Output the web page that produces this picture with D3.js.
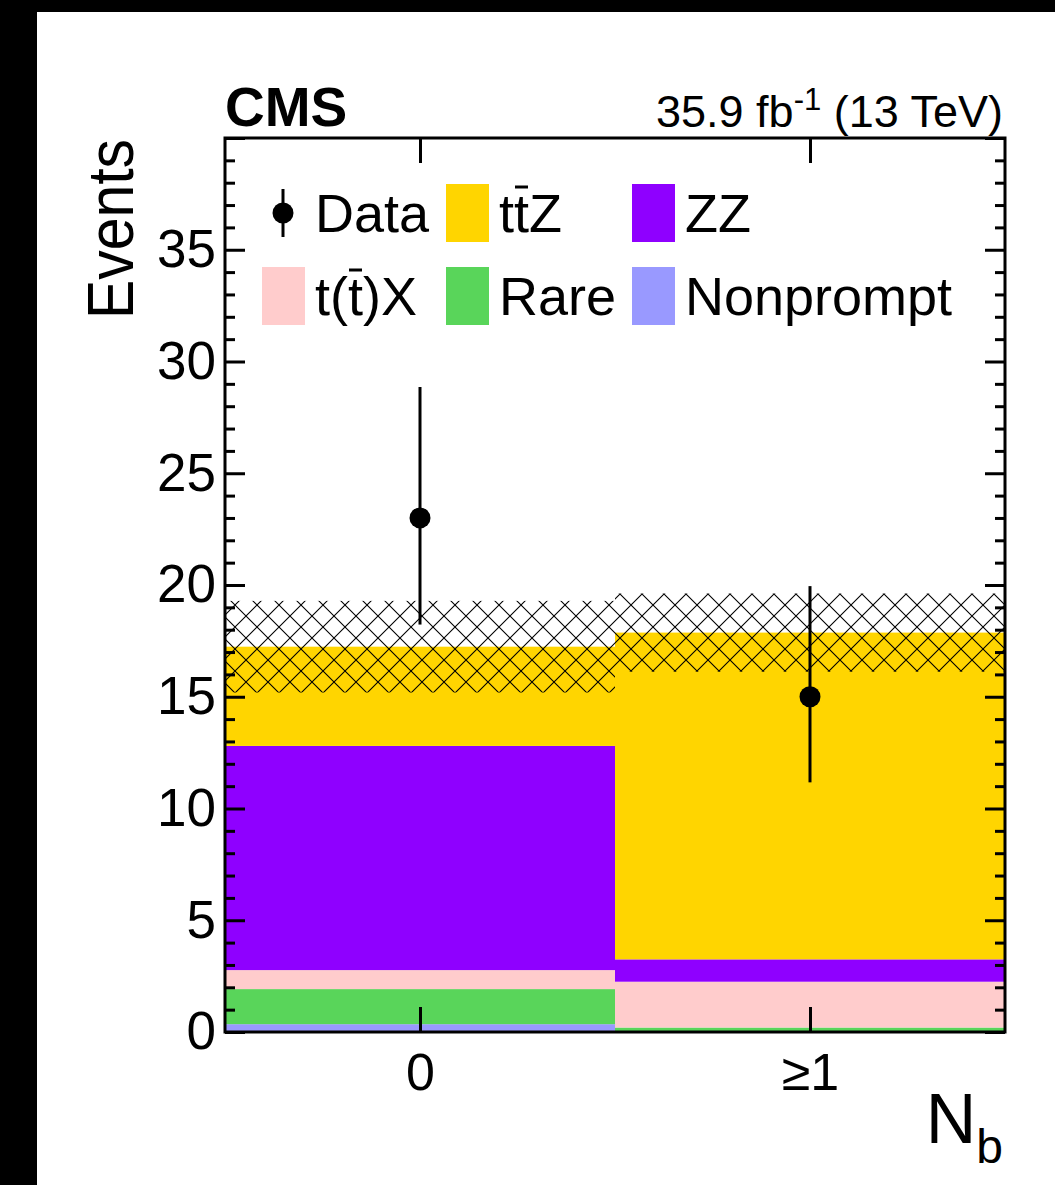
<!DOCTYPE html>
<html>
<head>
<meta charset="utf-8">
<script src="https://cdn.jsdelivr.net/npm/d3@7"></script>
<style>
  html, body { margin: 0; padding: 0; background: #fff; }
  svg { display: block; font-family: "Liberation Sans", Arial, Helvetica, sans-serif; }
</style>
</head>
<body>
<svg id="chart" width="1055" height="1185"></svg>
<script>
// Bins of the b-jet multiplicity
const categories = ["0", "\u22651"];

// Expected yields per process (stacked bottom to top)
const nonprompt = [0.35, 0.00];
const rare      = [1.57, 0.20];
const ttX       = [0.85, 2.05];
const zz        = [10.03, 1.00];
const ttZ       = [4.44, 14.62];

// Total background uncertainty (symmetric) per bin
const bkgUnc = [2.05, 1.75];

// Observed events with asymmetric Poisson errors
const dataCounts  = [23, 15];
const dataErrUp   = [5.86, 4.95];
const dataErrDown = [4.77, 3.83];

// Axis ticks
const yMajorTicks = [0, 5, 10, 15, 20, 25, 30, 35];
const yMinorTicks = d3.range(0, 41, 1);

// Process legend / colours
const processKeys   = ["nonprompt", "rare", "ttX", "zz", "ttZ"];
const processColors = {
  nonprompt: "#9999ff",
  rare: "#59d55a",
  ttX: "#ffcccc",
  zz: "#8f00ff",
  ttZ: "#ffd500"
};

const table = categories.map((c, i) => ({
  cat: c,
  nonprompt: nonprompt[i],
  rare: rare[i],
  ttX: ttX[i],
  zz: zz[i],
  ttZ: ttZ[i]
}));

const svg = d3.select("#chart");

// Dark page border on the left and top
svg.append("rect").attr("x", 0).attr("y", 0).attr("width", 1055).attr("height", 12).attr("fill", "#000");
svg.append("rect").attr("x", 0).attr("y", 0).attr("width", 37).attr("height", 1185).attr("fill", "#000");

const frame = { left: 225, right: 1005, top: 138, bottom: 1032 };

const x = d3.scaleBand().domain(categories).range([frame.left, frame.right]).padding(0);
const y = d3.scaleLinear().domain([0, 40]).range([frame.bottom, frame.top]);

// Hatch pattern for the background uncertainty band
const defs = svg.append("defs");
const pat = defs.append("pattern")
  .attr("id", "hatch")
  .attr("patternUnits", "userSpaceOnUse")
  .attr("x", frame.left - 1).attr("y", 0)
  .attr("width", 22).attr("height", 22);
pat.append("path").attr("d", "M0,0 L22,22 M22,0 L0,22 M-11,11 L11,33 M11,-11 L33,11 M-11,11 L11,-11 M11,33 L33,11")
  .attr("stroke", "#000").attr("stroke-width", 1.1).attr("fill", "none");

// Stacked histogram
const stacked = d3.stack().keys(processKeys)(table);
const gStack = svg.append("g");
stacked.forEach(layer => {
  gStack.selectAll(null)
    .data(layer)
    .enter().append("rect")
    .attr("x", d => x(d.data.cat))
    .attr("width", x.bandwidth())
    .attr("y", d => y(d[1]))
    .attr("height", d => Math.max(0, y(d[0]) - y(d[1])))
    .attr("fill", processColors[layer.key]);
});

// Uncertainty band around the total prediction
const totals = table.map(d => processKeys.reduce((s, k) => s + d[k], 0));
svg.append("g").selectAll("rect")
  .data(categories)
  .enter().append("rect")
  .attr("x", c => x(c))
  .attr("width", x.bandwidth())
  .attr("y", (c, i) => y(totals[i] + bkgUnc[i]))
  .attr("height", (c, i) => y(totals[i] - bkgUnc[i]) - y(totals[i] + bkgUnc[i]))
  .attr("fill", "url(#hatch)");

// Observed data with error bars
const gData = svg.append("g");
categories.forEach((c, i) => {
  const cx = x(c) + x.bandwidth() / 2;
  gData.append("line")
    .attr("x1", cx).attr("x2", cx)
    .attr("y1", y(dataCounts[i] + dataErrUp[i]))
    .attr("y2", y(dataCounts[i] - dataErrDown[i]))
    .attr("stroke", "#000").attr("stroke-width", 3);
  gData.append("circle")
    .attr("cx", cx).attr("cy", y(dataCounts[i]))
    .attr("r", 10.5).attr("fill", "#000");
});

// Axes: ticks point into the frame, as in ROOT
const gAxes = svg.append("g");
const styleAxis = g => {
  g.select(".domain").remove();
  g.selectAll(".tick line").attr("stroke", "#000").attr("stroke-width", 3);
};

gAxes.append("g").attr("transform", `translate(${frame.left},0)`)
  .call(d3.axisLeft(y).tickValues(yMinorTicks.filter(v => v % 5 !== 0)).tickSize(-10).tickFormat(""))
  .call(styleAxis);
gAxes.append("g").attr("transform", `translate(${frame.left},0)`)
  .call(d3.axisLeft(y).tickValues(yMajorTicks.concat([40])).tickSize(-20).tickPadding(9)
    .tickFormat(v => v === 40 ? "" : d3.format("d")(v)))
  .call(styleAxis)
  .call(g => g.selectAll(".tick text").attr("font-size", 53).attr("fill", "#000")
    .attr("font-family", "'Liberation Sans', Arial, sans-serif"));

gAxes.append("g").attr("transform", `translate(${frame.right},0)`)
  .call(d3.axisRight(y).tickValues(yMinorTicks.filter(v => v % 5 !== 0)).tickSize(-10).tickFormat(""))
  .call(styleAxis);
gAxes.append("g").attr("transform", `translate(${frame.right},0)`)
  .call(d3.axisRight(y).tickValues(yMajorTicks.concat([40])).tickSize(-20).tickFormat(""))
  .call(styleAxis);

const xCenter = d3.scalePoint().domain(categories).range([x(categories[0]) + x.bandwidth() / 2,
  x(categories[1]) + x.bandwidth() / 2]);
gAxes.append("g").attr("transform", `translate(0,${frame.bottom})`)
  .call(d3.axisBottom(xCenter).tickSize(-25).tickPadding(21))
  .call(styleAxis)
  .call(g => g.selectAll(".tick text").attr("font-size", 52).attr("fill", "#000")
    .attr("dy", "0.71em").attr("font-family", "'Liberation Sans', Arial, sans-serif"));
gAxes.append("g").attr("transform", `translate(0,${frame.top})`)
  .call(d3.axisTop(xCenter).tickSize(-25).tickFormat(""))
  .call(styleAxis);

// Frame
svg.append("rect")
  .attr("x", frame.left).attr("y", frame.top)
  .attr("width", frame.right - frame.left).attr("height", frame.bottom - frame.top)
  .attr("fill", "none").attr("stroke", "#000").attr("stroke-width", 3);

// Axis titles
svg.append("text")
  .attr("transform", "translate(133,229) rotate(-90)")
  .attr("text-anchor", "middle")
  .attr("font-size", 64)
  .attr("textLength", 180).attr("lengthAdjust", "spacingAndGlyphs")
  .text("Events");

const xt = svg.append("text")
  .attr("x", 1003).attr("y", 1143)
  .attr("text-anchor", "end")
  .attr("font-size", 70);
xt.append("tspan").text("N");
xt.append("tspan").attr("font-size", 48).attr("dy", 20).text("b");

// Header
svg.append("text")
  .attr("x", 225).attr("y", 126)
  .attr("font-size", 55).attr("font-weight", "bold")
  .text("CMS");
const lumi = svg.append("text")
  .attr("x", 1003).attr("y", 127)
  .attr("text-anchor", "end")
  .attr("font-size", 45);
lumi.append("tspan").text("35.9 fb");
lumi.append("tspan").attr("font-size", 31).attr("dy", -17).text("-1");
lumi.append("tspan").attr("dy", 17).text(" (13 TeV)");

// Legend
const legendEntries = [
  { label: "Data", type: "data", col: 0, row: 0 },
  { label: "ttZ", key: "ttZ", col: 1, row: 0, barChar: 1 },
  { label: "ZZ", key: "zz", col: 2, row: 0 },
  { label: "t(t)X", key: "ttX", col: 0, row: 1, barChar: 2 },
  { label: "Rare", key: "rare", col: 1, row: 1 },
  { label: "Nonprompt", key: "nonprompt", col: 2, row: 1 }
];
const colX = [262, 446, 632];
const rowY = [213, 296];
const gLeg = svg.append("g");
legendEntries.forEach(e => {
  const bx = colX[e.col], cy = rowY[e.row];
  if (e.type === "data") {
    gLeg.append("line").attr("x1", bx + 21).attr("x2", bx + 21)
      .attr("y1", cy - 24).attr("y2", cy + 24)
      .attr("stroke", "#000").attr("stroke-width", 3);
    gLeg.append("circle").attr("cx", bx + 21).attr("cy", cy).attr("r", 10.5).attr("fill", "#000");
  } else {
    gLeg.append("rect").attr("x", bx).attr("y", cy - 29)
      .attr("width", 43).attr("height", 58)
      .attr("fill", processColors[e.key]);
  }
  const t = gLeg.append("text")
    .attr("x", bx + 53).attr("y", cy + 19)
    .attr("font-size", 54)
    .text(e.label);
  if (e.barChar !== undefined) {
    // overline marking the antiquark
    const node = t.node();
    const sx = node.getStartPositionOfChar(e.barChar).x;
    const ex = node.getEndPositionOfChar(e.barChar).x;
    gLeg.append("line")
      .attr("x1", sx + 1).attr("x2", ex - 1)
      .attr("y1", cy - 26).attr("y2", cy - 26)
      .attr("stroke", "#000").attr("stroke-width", 3);
  }
});
</script>
</body>
</html>
